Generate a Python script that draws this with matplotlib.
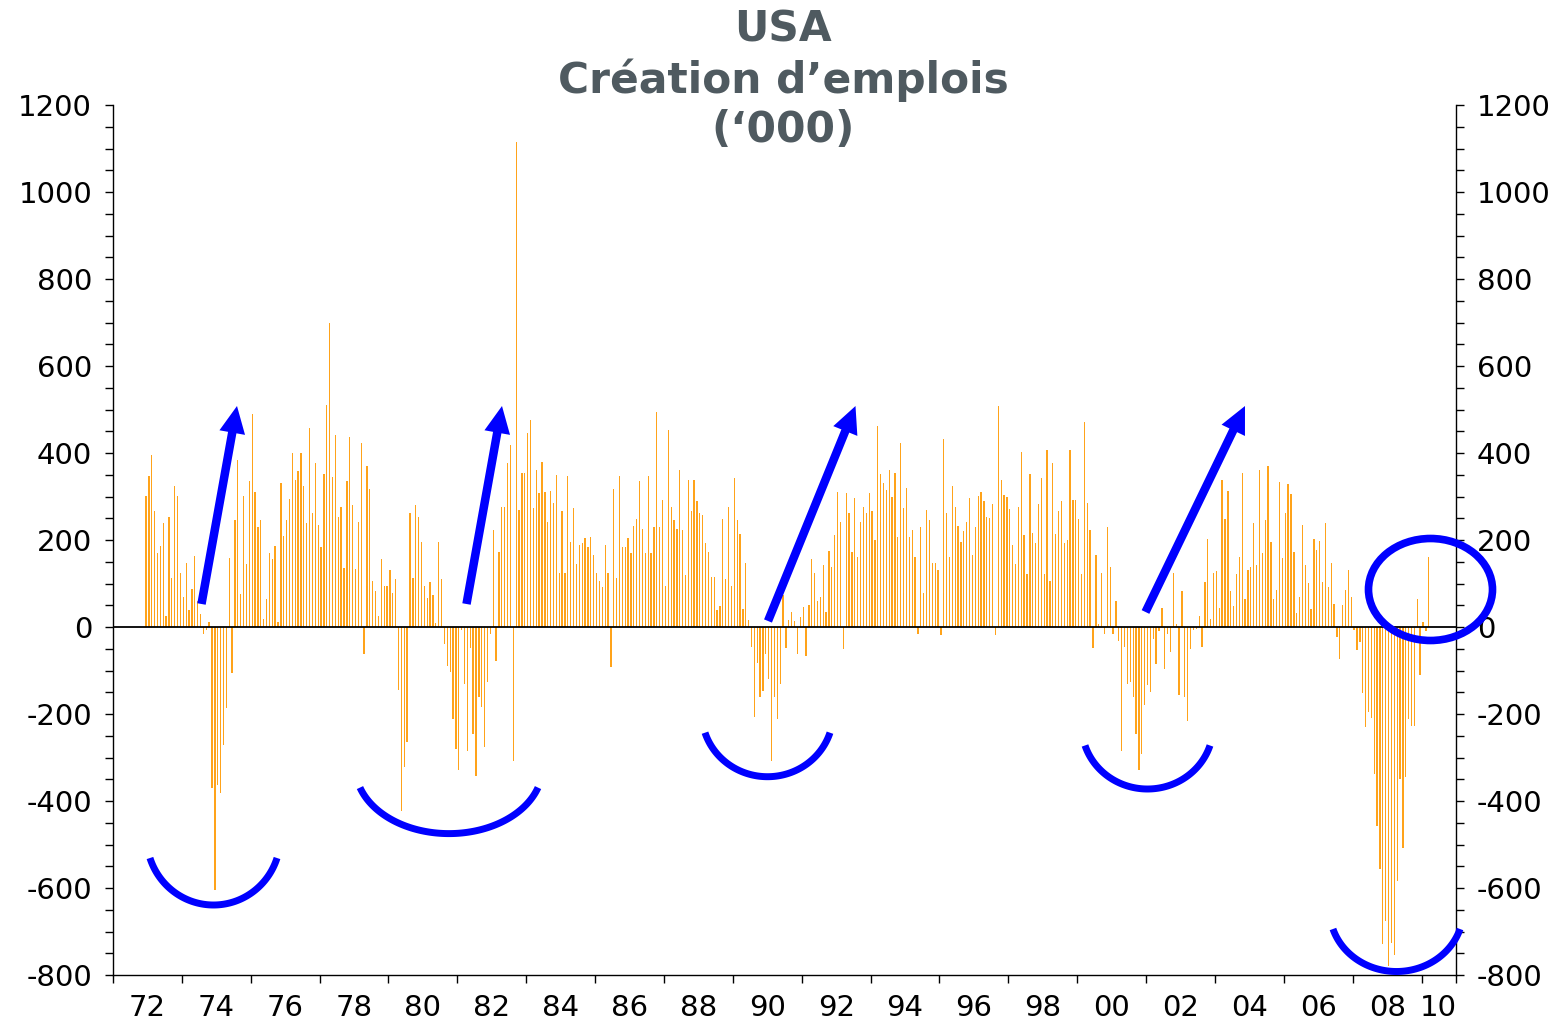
import numpy as np
import matplotlib
matplotlib.use("Agg")
import matplotlib.pyplot as plt
from matplotlib.patches import Ellipse, FancyArrow

plt.rcParams['axes.unicode_minus'] = False

# Création d'emplois USA, variation mensuelle ('000), déc. 1972 -> mars 2010
first_month = 11  # index du premier mois (0 = janv. 1972)
y1972 = [302]
y1973 = [347, 395, 266, 169, 187, 238, 25, 253, 113, 323, 302, 123]
y1974 = [69, 147, 40, 87, 164, 60, 30, -17, -8, 12, -370, -604]
y1975 = [-364, -382, -272, -186, 159, -106, 247, 385, 77, 301, 144, 335]
y1976 = [489, 310, 231, 245, 18, 65, 169, 156, 187, 12, 332, 210]
y1977 = [245, 295, 401, 339, 358, 399, 324, 238, 458, 261, 378, 235]
y1978 = [184, 351, 511, 700, 344, 442, 253, 275, 135, 335, 436, 280]
y1979 = [134, 242, 424, -63, 371, 318, 106, 83, 25, 157, 94, 94]
y1980 = [131, 79, 110, -145, -423, -321, -264, 261, 113, 280, 254, 195]
y1981 = [94, 66, 103, 73, 9, 195, 110, -38, -90, -103, -211, -281]
y1982 = [-329, -8, -130, -284, -49, -247, -343, -160, -183, -277, -126, -15]
y1983 = [223, -78, 173, 276, 276, 378, 418, -308, 1114, 270, 353, 355]
y1984 = [445, 477, 273, 361, 307, 379, 311, 242, 313, 286, 349, 125]
y1985 = [267, 123, 346, 195, 273, 144, 189, 192, 204, 184, 207, 166]
y1986 = [123, 106, 92, 189, 125, -93, 318, 113, 346, 185, 185, 204]
y1987 = [170, 232, 248, 336, 226, 170, 346, 170, 230, 494, 230, 292]
y1988 = [95, 453, 277, 245, 226, 362, 223, 120, 339, 267, 339, 290]
y1989 = [261, 257, 192, 173, 116, 116, 38, 48, 248, 110, 277, 95]
y1990 = [342, 245, 213, 41, 148, 15, -45, -208, -82, -161, -146, -63]
y1991 = [-120, -308, -161, -211, -130, 74, -48, 15, 34, 14, -61, 23]
y1992 = [47, -67, 50, 156, 125, 60, 69, 143, 34, 175, 138, 211]
y1993 = [311, 242, -51, 307, 263, 173, 296, 162, 242, 277, 261, 307]
y1994 = [267, 201, 462, 352, 330, 314, 362, 299, 355, 208, 424, 273]
y1995 = [320, 208, 223, 161, -15, 230, 79, 270, 245, 148, 148, 131]
y1996 = [-19, 433, 263, 161, 324, 277, 232, 195, 221, 242, 296, 166]
y1997 = [230, 301, 311, 290, 254, 250, 282, -18, 508, 339, 303, 298]
y1998 = [272, 189, 144, 277, 402, 211, 121, 352, 217, 192, 282, 342]
y1999 = [121, 408, 106, 378, 213, 266, 289, 192, 201, 408, 293, 293]
y2000 = [249, 121, 471, 286, 223, -49, 165, 6, 123, -15, 230, 138]
y2001 = [-17, 60, -32, -284, -45, -130, -126, -161, -247, -329, -293, -180]
y2002 = [-133, -149, -28, -86, -9, 44, -97, -17, -57, 125, 6, -157]
y2003 = [83, -161, -215, -51, -7, -4, 25, -45, 103, 202, 19, 123]
y2004 = [129, 43, 337, 249, 312, 83, 48, 121, 161, 353, 65, 132]
y2005 = [138, 240, 143, 360, 171, 247, 369, 196, 65, 85, 334, 158]
y2006 = [262, 329, 305, 173, 33, 69, 234, 143, 101, 42, 202, 176]
y2007 = [197, 104, 240, 93, 148, 54, -23, -73, 50, 85, 130, 70]
y2008 = [-8, -52, -34, -152, -231, -195, -209, -337, -458, -557, -728, -676]
y2009 = [-780, -726, -754, -584, -349, -508, -345, -212, -227, -227, 65, -110]
y2010 = [11, -10, 161]

year_labels = ['72', '74', '76', '78', '80', '82', '84', '86', '88', '90',
               '92', '94', '96', '98', '00', '02', '04', '06', '08', '10']

values = np.concatenate([y1972, y1973, y1974, y1975, y1976, y1977, y1978,
                         y1979, y1980, y1981, y1982, y1983, y1984, y1985,
                         y1986, y1987, y1988, y1989, y1990, y1991, y1992,
                         y1993, y1994, y1995, y1996, y1997, y1998, y1999,
                         y2000, y2001, y2002, y2003, y2004, y2005, y2006,
                         y2007, y2008, y2009, y2010])
months = first_month + np.arange(len(values)) + 0.5

# annotations (pixels de l'image)
arcs = [(213.5, 837, 66.8, 68, 18, 162),
        (449, 767, 93.6, 66.6, 18, 162),
        (767.5, 713, 65.7, 63.7, 18, 162),
        (1147.5, 726, 65.7, 63, 18, 162),
        (1396.5, 910, 66.8, 61.5, 18, 162)]
arrows = [(201.5, 604, 237, 406),
          (466.5, 604, 502, 406),
          (768, 621, 855.5, 406),
          (1145.5, 612, 1245, 406)]
circle = (1430.5, 589.5, 124, 102)

W, H = 1566, 1027
fig = plt.figure(figsize=(W / 100, H / 100), dpi=100)
L, R, T, B = 113, 1456, 105, 975
ax = fig.add_axes([L / W, 1 - B / H, (R - L) / W, (B - T) / H])

ax.bar(months, values, width=0.45, color='#FFA31A', linewidth=0)
ax.axhline(0, color='black', lw=1.3, zorder=3)

ax.set_xlim(0, 468)
ax.set_ylim(-800, 1200)
ax.set_yticks(np.arange(-800, 1201, 200))
ax.set_yticks(np.arange(-800, 1201, 50), minor=True)
ax.set_xticks(list(range(0, 457, 24)) + [468])
ax.set_xticklabels([])
ax.set_xticks([12 + 24 * k for k in range(19)] + [462], minor=True)
ax.set_xticklabels(year_labels, minor=True)

ax.spines['top'].set_visible(False)
for s in ['left', 'right', 'bottom']:
    ax.spines[s].set_linewidth(1.0)
ax.tick_params(axis='y', which='both', direction='out', length=6, width=1.0,
               left=True, right=True, labelleft=True, labelright=True,
               labelsize=21, pad=9)
ax.tick_params(axis='x', which='major', direction='out', length=6, width=1.0)
ax.tick_params(axis='x', which='minor', length=0, labelsize=21, pad=14)

title_color = '#4F5A60'
fig.text(0.5, 1 - 42 / H, 'USA', ha='center', va='baseline',
         fontsize=30.5, fontweight='bold', color=title_color)
fig.text(0.5, 1 - 93 / H, 'Création d’emplois', ha='center', va='baseline',
         fontsize=30.5, fontweight='bold', color=title_color)
fig.text(0.5, 1 - 142 / H, '(‘000)', ha='center', va='baseline',
         fontsize=30.5, fontweight='bold', color=title_color)

ov = fig.add_axes([0, 0, 1, 1])
ov.set_xlim(0, W)
ov.set_ylim(H, 0)
ov.axis('off')
ov.patch.set_alpha(0)

for cx, cy, rx, ry, t1, t2 in arcs:
    t = np.radians(np.linspace(t1, t2, 120))
    ov.plot(cx + rx * np.cos(t), cy + ry * np.sin(t), color='#0000FF',
            lw=5, solid_capstyle='butt')

for x0, y0, x1, y1 in arrows:
    ov.add_patch(FancyArrow(x0, y0, x1 - x0, y1 - y0, width=8.5, head_width=26,
                            head_length=27, length_includes_head=True,
                            fc='#0000FF', ec='none'))

ov.add_patch(Ellipse(circle[:2], circle[2], circle[3], fill=False,
                     ec='#0000FF', lw=5.5))

fig.savefig('out.png', dpi=100)
